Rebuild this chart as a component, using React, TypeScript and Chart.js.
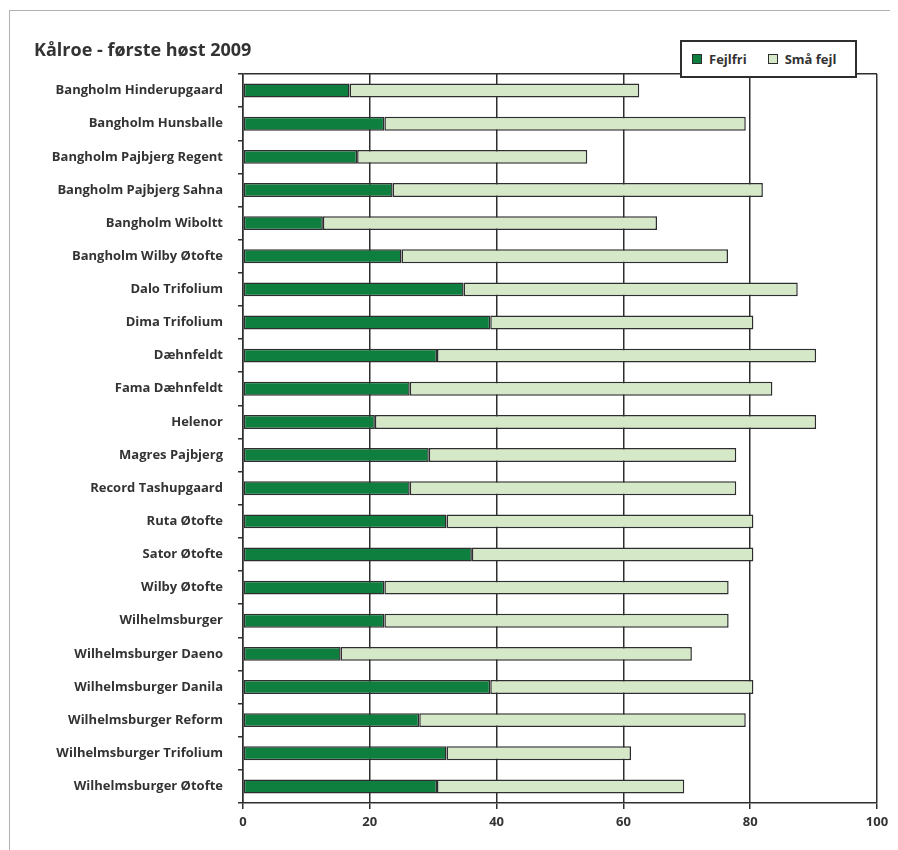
import React, { useEffect, useRef } from 'react';
import { Chart, registerables } from 'chart.js';

Chart.register(...registerables);

const TITLE = 'Kålroe - første høst 2009';
const SERIES_NAMES = ['Fejlfri', 'Små fejl'];

const varieties = [
  'Bangholm Hinderupgaard',
  'Bangholm Hunsballe',
  'Bangholm Pajbjerg Regent',
  'Bangholm Pajbjerg Sahna',
  'Bangholm Wiboltt',
  'Bangholm Wilby Øtofte',
  'Dalo Trifolium',
  'Dima Trifolium',
  'Dæhnfeldt',
  'Fama Dæhnfeldt',
  'Helenor',
  'Magres Pajbjerg',
  'Record Tashupgaard',
  'Ruta Øtofte',
  'Sator Øtofte',
  'Wilby Øtofte',
  'Wilhelmsburger',
  'Wilhelmsburger Daeno',
  'Wilhelmsburger Danila',
  'Wilhelmsburger Reform',
  'Wilhelmsburger Trifolium',
  'Wilhelmsburger Øtofte',
];

const fejlfri = [
  16.8, 22.3, 18.0, 23.6, 12.6, 25.0, 34.8, 39.0, 30.6, 26.3, 20.8,
  29.3, 26.3, 32.1, 36.1, 22.3, 22.3, 15.4, 39.0, 27.8, 32.1, 30.6,
];

const smaaFejl = [
  45.7, 57.0, 36.3, 58.4, 52.7, 51.5, 52.7, 41.5, 59.8, 57.2, 69.6,
  48.5, 51.5, 48.4, 44.4, 54.3, 54.3, 55.4, 41.5, 51.5, 29.1, 39.0,
];

const X_MIN = 0;
const X_MAX = 100;
const X_STEP = 20;

const GREEN = '#0f7f40';
const LIGHT = '#d5e8c8';
const DARK = '#2e2e2e';
const TEXT = '#333333';
const FONT = '"Open Sans", "DejaVu Sans", sans-serif';

export default function App() {
  const ref = useRef<HTMLCanvasElement>(null);

  useEffect(() => {
    document.documentElement.style.overflow = 'hidden';
    document.body.style.overflow = 'hidden';
    if (!ref.current) return;
    const chart = new Chart(ref.current, {
      type: 'bar',
      data: {
        labels: varieties,
        datasets: [
          {
            label: SERIES_NAMES[0],
            data: fejlfri,
            backgroundColor: GREEN,
            borderColor: DARK,
            borderWidth: 1.5,
            borderSkipped: false,
            barPercentage: 0.42,
            categoryPercentage: 1,
          },
          {
            label: SERIES_NAMES[1],
            data: smaaFejl,
            backgroundColor: LIGHT,
            borderColor: DARK,
            borderWidth: 1.5,
            borderSkipped: false,
            barPercentage: 0.42,
            categoryPercentage: 1,
          },
        ],
      },
      options: {
        indexAxis: 'y',
        responsive: false,
        animation: false,
        layout: { padding: { top: 66, right: 21, bottom: 0, left: 0 } },
        plugins: {
          legend: { display: false },
          title: { display: false },
          tooltip: { enabled: false },
        },
        scales: {
          x: {
            stacked: true,
            min: X_MIN,
            max: X_MAX,
            ticks: {
              stepSize: X_STEP,
              color: TEXT,
              font: { family: FONT, size: 13, weight: 'bold' },
              padding: 5,
            },
            grid: { color: DARK, lineWidth: 1.5, tickLength: 6 },
            border: { color: DARK, width: 1.5 },
            afterFit: (s: any) => {
              s.height = 47;
            },
          },
          y: {
            stacked: true,
            ticks: {
              color: TEXT,
              font: { family: FONT, size: 13, weight: 'bold' },
              padding: 15,
            },
            grid: {
              drawOnChartArea: true,
              color: (ctx: any) => (ctx.index === 0 ? DARK : 'rgba(0,0,0,0)'),
              tickColor: DARK,
              tickLength: 5,
              lineWidth: 1.5,
            },
            border: { color: DARK, width: 1.5 },
            afterFit: (s: any) => {
              s.width = 235;
            },
          },
        },
      },
    });
    return () => chart.destroy();
  }, []);

  return (
    <div style={{ position: 'relative', width: 890, height: 842, fontFamily: FONT }}>
      <div
        style={{
          position: 'absolute',
          left: 1,
          top: 2,
          width: 889,
          height: 840,
          borderTop: '1px solid #b0b0b0',
          borderLeft: '1px solid #b0b0b0',
        }}
      />
      <canvas
        ref={ref}
        width={890}
        height={842}
        style={{ position: 'absolute', left: 0, top: 0, width: 890, height: 842 }}
      />
      <div
        style={{
          position: 'absolute',
          left: 26,
          top: 30,
          fontSize: 18,
          lineHeight: '22px',
          fontWeight: 'bold',
          color: TEXT,
          whiteSpace: 'nowrap',
        }}
      >
        {TITLE}
      </div>
      <div
        style={{
          position: 'absolute',
          left: 672,
          top: 32,
          width: 173,
          height: 34,
          border: `2px solid ${DARK}`,
          background: '#fff',
          display: 'flex',
          alignItems: 'center',
          fontSize: 13,
          fontWeight: 'bold',
          color: TEXT,
          boxSizing: 'content-box',
        }}
      >
        <span style={{ display: 'inline-block', width: 8, height: 8, background: GREEN, border: `1px solid ${DARK}`, marginLeft: 10, marginRight: 7 }} />
        <span>{SERIES_NAMES[0]}</span>
        <span style={{ display: 'inline-block', width: 8, height: 8, background: LIGHT, border: `1px solid ${DARK}`, marginLeft: 21, marginRight: 7 }} />
        <span>{SERIES_NAMES[1]}</span>
      </div>
    </div>
  );
}
